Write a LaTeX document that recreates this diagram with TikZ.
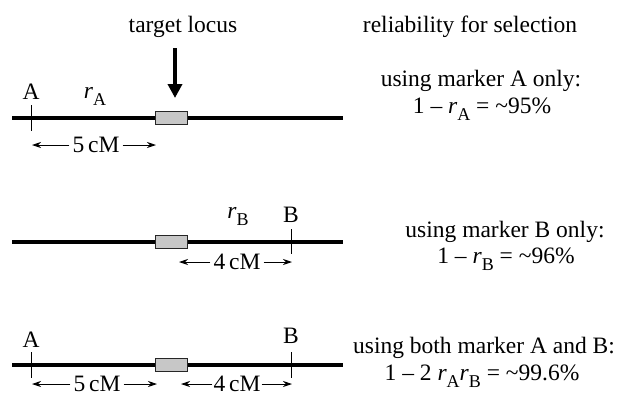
\documentclass[tikz,border=0pt]{standalone}
\usepackage{fontspec}
\setmainfont{Liberation Serif}
\usetikzlibrary{arrows.meta}
\newcommand{\lowsub}[1]{\raisebox{-0.3em}{\fontsize{18}{18}\selectfont #1}}
\begin{document}
\begin{tikzpicture}[x=1pt,y=-1pt,
  chrom/.style={line width=4pt},
  locus/.style={draw=black!85, line width=1pt, fill=black!22, minimum width=32pt, minimum height=13pt, inner sep=0pt},
  tickmark/.style={line width=1pt},
  dim/.style={-{Stealth[length=9pt,width=6pt]}, line width=0.9pt},
  lbl/.style={anchor=base, inner sep=0pt},
  dimtxt/.style={inner sep=3pt},
  font=\fontsize{23.5}{28}\selectfont]
\useasboundingbox (0,0) rectangle (624,397);
% headers
\node[lbl] (tl) at (183,32) {target locus};
\node[lbl] (rel) at (470,32) {reliability for selection};
% ---- row 1
\coordinate (c1l) at (12,118); \coordinate (c1r) at (343,118);
\draw[chrom] (c1l) -- (c1r);
\node[locus] (box1) at (171,118) {};
\coordinate (a1t) at (31,105); \coordinate (a1b) at (31,131);
\draw[tickmark] (a1t) -- (a1b);
\node[lbl] (A1) at (31,99) {A};
\node[lbl] (rA) at (95,98) {\textit{r}\lowsub{A}};
\coordinate (arT) at (175,48); \coordinate (arB) at (175,98);
\draw[line width=4pt, -{Triangle[length=14pt,width=14pt]}] (arT) -- (arB);
\coordinate (d1l) at (32,145); \coordinate (d1r) at (156,145);
\node[dimtxt] (t1) at (96,145) {5\,cM};
\draw[dim] (t1.west) -- (d1l);
\draw[dim] (t1.east) -- (d1r);
\node[lbl] (u1) at (481,86) {using marker A only:};
\node[lbl] (f1) at (482,113) {1 – \textit{r}\lowsub{A} = \textasciitilde95\%};
% ---- row 2
\coordinate (c2l) at (12,242); \coordinate (c2r) at (343,242);
\draw[chrom] (c2l) -- (c2r);
\node[locus] (box2) at (171,242) {};
\coordinate (b2t) at (291,229); \coordinate (b2b) at (291,254);
\draw[tickmark] (b2t) -- (b2b);
\node[lbl] (B2) at (291,222) {B};
\node[lbl] (rB) at (238,218) {\textit{r}\lowsub{B}};
\coordinate (d2l) at (179,262); \coordinate (d2r) at (292,262);
\node[dimtxt] (t2) at (237,262) {4\,cM};
\draw[dim] (t2.west) -- (d2l);
\draw[dim] (t2.east) -- (d2r);
\node[lbl] (u2) at (505,237) {using marker B only:};
\node[lbl] (f2) at (506,263) {1 – \textit{r}\lowsub{B} = \textasciitilde96\%};
% ---- row 3
\coordinate (c3l) at (12,365); \coordinate (c3r) at (343,365);
\draw[chrom] (c3l) -- (c3r);
\node[locus] (box3) at (171,365) {};
\coordinate (a3t) at (31,352); \coordinate (a3b) at (31,378);
\draw[tickmark] (a3t) -- (a3b);
\coordinate (b3t) at (291,352); \coordinate (b3b) at (291,378);
\draw[tickmark] (b3t) -- (b3b);
\node[lbl] (A3) at (31,347) {A};
\node[lbl] (B3) at (291,343) {B};
\coordinate (d3l) at (32,384); \coordinate (d3m) at (157,384);
\coordinate (d3n) at (181,384); \coordinate (d3r) at (292,384);
\node[dimtxt] (t3) at (97,384) {5\,cM};
\node[dimtxt, inner xsep=1pt] (t4) at (237,384) {4\,cM};
\draw[dim] (t3.west) -- (d3l);
\draw[dim] (t3.east) -- (d3m);
\draw[dim] (t4.west) -- (d3n);
\draw[dim] (t4.east) -- (d3r);
\node[lbl] (u3) at (484,353) {using both marker A and B:};
\node[lbl] (f3) at (482,380) {1 – 2 \textit{r}\lowsub{A}\textit{r}\lowsub{B} = \textasciitilde99.6\%};
\end{tikzpicture}
\end{document}
